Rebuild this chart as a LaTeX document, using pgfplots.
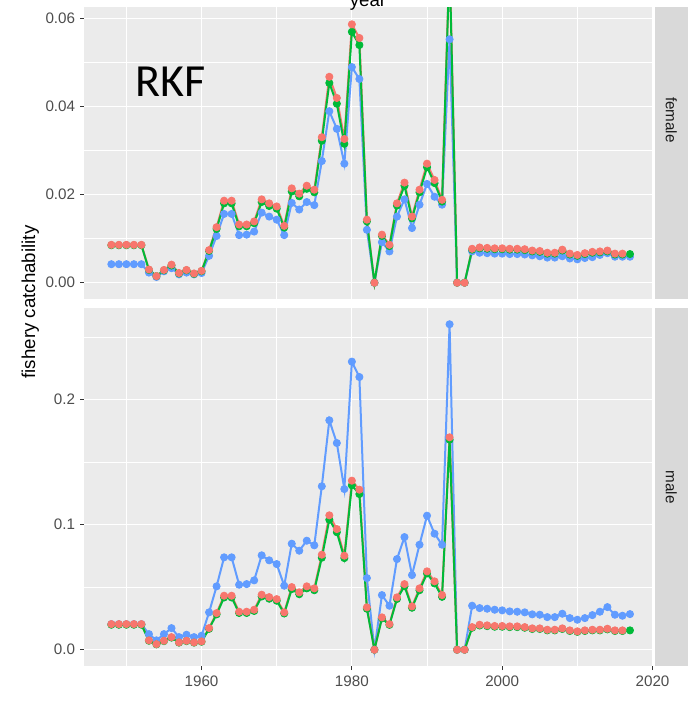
\documentclass[border=0pt]{standalone}
\usepackage{pgfplots}
\pgfplotsset{compat=1.18}
\usepackage{pgfplotstable}
\usepackage{fontspec}
\setmainfont{Liberation Sans}
\newfontfamily\rkffont{Carlito}

\definecolor{panel}{HTML}{EBEBEB}
\definecolor{stripbg}{HTML}{D9D9D9}
\definecolor{stript}{HTML}{1A1A1A}
\definecolor{tickc}{HTML}{333333}
\definecolor{ticklab}{HTML}{4D4D4D}
\definecolor{ggred}{HTML}{F8766D}
\definecolor{gggreen}{HTML}{00BA38}
\definecolor{ggblue}{HTML}{619CFF}

% year  r (red)  g (green)  b (blue)
\pgfplotstableread{
year r g b
1948 0.0086 0.0085 0.0042
1949 0.0086 0.0085 0.0042
1950 0.0086 0.0085 0.0042
1951 0.0086 0.0085 0.0042
1952 0.0086 0.0085 0.0042
1953 0.0030 0.0029 0.0023
1954 0.0015 0.0015 0.0013
1955 0.0029 0.0028 0.0026
1956 0.0041 0.0039 0.0033
1957 0.0022 0.0021 0.0019
1958 0.0029 0.0028 0.0023
1959 0.0021 0.0020 0.0019
1960 0.0027 0.0026 0.0022
1961 0.0074 0.0072 0.0061
1962 0.0126 0.0122 0.0106
1963 0.0186 0.0180 0.0156
1964 0.0186 0.0180 0.0156
1965 0.0132 0.0128 0.0108
1966 0.0132 0.0128 0.0109
1967 0.0139 0.0135 0.0116
1968 0.0189 0.0183 0.0159
1969 0.0180 0.0174 0.0150
1970 0.0173 0.0168 0.0143
1971 0.0129 0.0125 0.0108
1972 0.0214 0.0207 0.0181
1973 0.0202 0.0196 0.0166
1974 0.0220 0.0213 0.0183
1975 0.0211 0.0205 0.0176
1976 0.0330 0.0322 0.0276
1977 0.0467 0.0453 0.0389
1978 0.0419 0.0406 0.0349
1979 0.0326 0.0315 0.0270
1980 0.0586 0.0569 0.0489
1981 0.0555 0.0539 0.0462
1982 0.0143 0.0139 0.0120
1983 0 0 0
1984 0.0109 0.0106 0.0092
1985 0.0086 0.0083 0.0071
1986 0.0180 0.0175 0.0150
1987 0.0227 0.0220 0.0189
1988 0.0150 0.0146 0.0124
1989 0.0211 0.0205 0.0177
1990 0.0270 0.0262 0.0224
1991 0.0233 0.0226 0.0195
1992 0.0188 0.0184 0.0177
1993 0.0738 0.0728 0.0552
1994 0 0 0
1995 0 0 0
1996 0.0077 0.0075 0.0071
1997 0.0080 0.0078 0.0068
1998 0.0079 0.0077 0.0067
1999 0.0078 0.0076 0.0066
2000 0.0078 0.0076 0.0066
2001 0.0077 0.0075 0.0065
2002 0.0077 0.0075 0.0065
2003 0.0076 0.0074 0.0064
2004 0.0073 0.0071 0.0062
2005 0.0072 0.0070 0.0060
2006 0.0068 0.0066 0.0057
2007 0.0068 0.0066 0.0057
2008 0.0075 0.0073 0.0060
2009 0.0066 0.0064 0.0055
2010 0.0063 0.0061 0.0053
2011 0.0067 0.0065 0.0056
2012 0.0070 0.0068 0.0058
2013 0.0071 0.0069 0.0063
2014 0.0073 0.0071 0.0067
2015 0.0066 0.0064 0.0059
2016 0.0066 0.0064 0.0059
2017 nan 0.0065 0.0059
}\female

\pgfplotstableread{
year r g b
1948 0.0205 0.0200 0.0205
1949 0.0205 0.0200 0.0205
1950 0.0205 0.0200 0.0205
1951 0.0205 0.0200 0.0205
1952 0.0205 0.0200 0.0205
1953 0.0075 0.0072 0.0125
1954 0.0045 0.0043 0.0075
1955 0.0072 0.0069 0.0125
1956 0.0101 0.0097 0.0173
1957 0.0059 0.0057 0.0101
1958 0.0072 0.0069 0.0120
1959 0.0059 0.0057 0.0101
1960 0.0067 0.0064 0.0112
1961 0.0173 0.0167 0.0299
1962 0.0293 0.0283 0.0507
1963 0.0432 0.0418 0.0739
1964 0.0432 0.0418 0.0739
1965 0.0304 0.0294 0.0520
1966 0.0304 0.0294 0.0525
1967 0.0320 0.0310 0.0555
1968 0.0440 0.0426 0.0755
1969 0.0421 0.0408 0.0715
1970 0.0405 0.0392 0.0685
1971 0.0299 0.0290 0.0512
1972 0.0501 0.0485 0.0848
1973 0.0459 0.0444 0.0792
1974 0.0507 0.0491 0.0872
1975 0.0491 0.0476 0.0835
1976 0.0760 0.0736 0.1307
1977 0.1075 0.1040 0.1835
1978 0.0965 0.0940 0.1653
1979 0.0752 0.0733 0.1285
1980 0.1352 0.1315 0.2304
1981 0.1280 0.1245 0.2181
1982 0.0339 0.0328 0.0573
1983 0 0 0
1984 0.0259 0.0251 0.0437
1985 0.0205 0.0199 0.0352
1986 0.0419 0.0406 0.0725
1987 0.0525 0.0508 0.0901
1988 0.0347 0.0336 0.0597
1989 0.0491 0.0476 0.0840
1990 0.0627 0.0610 0.1072
1991 0.0547 0.0530 0.0928
1992 0.0437 0.0423 0.0840
1993 0.1699 0.1680 0.2603
1994 0 0 0
1995 0 0 0
1996 0.0181 0.0176 0.0352
1997 0.0200 0.0194 0.0333
1998 0.0195 0.0189 0.0328
1999 0.0190 0.0184 0.0320
2000 0.0190 0.0184 0.0315
2001 0.0187 0.0181 0.0307
2002 0.0187 0.0181 0.0304
2003 0.0181 0.0176 0.0299
2004 0.0171 0.0166 0.0283
2005 0.0171 0.0166 0.0280
2006 0.0160 0.0155 0.0261
2007 0.0160 0.0155 0.0261
2008 0.0171 0.0166 0.0288
2009 0.0155 0.0150 0.0253
2010 0.0147 0.0143 0.0240
2011 0.0155 0.0150 0.0253
2012 0.0160 0.0155 0.0277
2013 0.0160 0.0155 0.0304
2014 0.0168 0.0163 0.0341
2015 0.0155 0.0150 0.0280
2016 0.0155 0.0150 0.0272
2017 nan 0.0155 0.0285
}\male

\pgfplotsset{
  gg/.style={
    scale only axis, width=284.1pt, height=179pt,
    anchor=south west,
    xmin=1944.4, xmax=2020,
    axis background/.style={fill=panel},
    axis line style={draw=none},
    xmajorgrids, ymajorgrids, xminorgrids, yminorgrids,
    major grid style={white, line width=0.55pt},
    minor grid style={white, line width=0.27pt},
    xtick={1960,1980,2000,2020},
    minor xtick={1950,1970,1990,2010},
    xticklabels={1960,1980,2000,2020},
    scaled y ticks=false,
    tick align=outside,
    major tick length=2pt, minor tick length=0pt,
    every tick/.style={tickc, line width=0.55pt},
    tick label style={font=\fontsize{7.6}{9}\selectfont, text=ticklab},
    yticklabel style={inner sep=0pt, xshift=-2.4pt},
    xticklabel style={inner sep=0pt, yshift=-2.8pt},
    /pgf/number format/assume math mode=true,
    xtick pos=bottom, ytick pos=left,
    unbounded coords=jump,
  },
  ggln/.style={#1, line width=1pt, no markers},
  ggpt/.style={#1, only marks, mark=*, mark size=1.8pt},
}

\begin{document}
\begin{tikzpicture}
\useasboundingbox (0,0) rectangle (349.5pt,360pt);

% female panel
\begin{axis}[gg, at={(42.15pt,210.5pt)},
  ymin=-0.00369, ymax=0.0775,
  ytick={0,0.02,0.04,0.06}, minor ytick={0.01,0.03,0.05},
  yticklabels={0.00,0.02,0.04,0.06},
  xmajorticks=false]
\addplot[ggln=ggblue] table[x=year,y=b]{\female};
\addplot[ggln=ggred] table[x=year,y=r]{\female};
\addplot[ggln=gggreen] table[x=year,y=g]{\female};
\addplot[ggpt=ggblue] table[x=year,y=b]{\female};
\addplot[ggpt=gggreen] table[x=year,y=g]{\female};
\addplot[ggpt=ggred] table[x=year,y=r]{\female};
\end{axis}

% male panel
\begin{axis}[gg, at={(42.15pt,27pt)},
  ymin=-0.0130, ymax=0.2733,
  ytick={0,0.1,0.2}, minor ytick={0.05,0.15,0.25},
  yticklabels={0.0,0.1,0.2}]
\addplot[ggln=ggblue] table[x=year,y=b]{\male};
\addplot[ggln=ggred] table[x=year,y=r]{\male};
\addplot[ggln=gggreen] table[x=year,y=g]{\male};
\addplot[ggpt=ggblue] table[x=year,y=b]{\male};
\addplot[ggpt=gggreen] table[x=year,y=g]{\male};
\addplot[ggpt=ggred] table[x=year,y=r]{\male};
\end{axis}

% facet strips
\fill[stripbg] (327.5pt,210.5pt) rectangle (344.15pt,389.5pt);
\fill[stripbg] (327.5pt,27pt) rectangle (344.15pt,206pt);
\node[rotate=-90, font=\fontsize{7.6}{9}\selectfont, text=stript] at (335.6pt,300pt) {female};
\node[rotate=-90, font=\fontsize{7.6}{9}\selectfont, text=stript] at (335.6pt,116.5pt) {male};

% axis title
\node[rotate=90, font=\fontsize{9.35}{11}\selectfont] at (15.2pt,209pt) {fishery catchability};

% label inside the top panel
\node[font=\rkffont\fontsize{23}{26}\selectfont] at (85.5pt,319pt) {RKF};

% white band at the very top with the cut "year" title
\fill[white] (0,356.5pt) rectangle (349.5pt,362pt);
\node[anchor=base, font=\fontsize{9.35}{11}\selectfont, inner sep=0pt] at (184pt,356.8pt) {year};
\end{tikzpicture}
\end{document}
